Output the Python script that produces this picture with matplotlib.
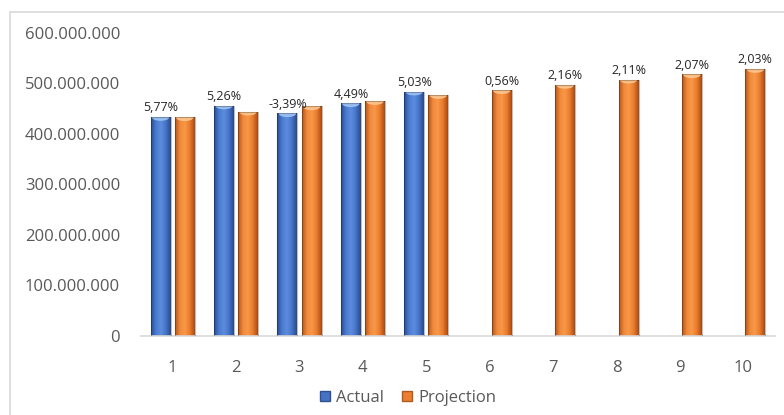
import matplotlib
matplotlib.use("Agg")
import matplotlib.pyplot as plt
from matplotlib.patches import Rectangle, Ellipse, Patch
from matplotlib.colors import LinearSegmentedColormap
from matplotlib.ticker import FuncFormatter
import numpy as np

# dane: wartości rzeczywiste i prognoza (w mln) oraz dynamika r/r
years = [1, 2, 3, 4, 5, 6, 7, 8, 9, 10]
actual = [433.5, 456.3, 440.8, 460.6, 483.8]
projection = [433.0, 444.0, 454.5, 465.0, 477.0, 486.5, 497.0, 507.5, 518.0, 528.5]
growth = ["5,77%", "5,26%", "-3,39%", "4,49%", "5,03%",
          "0,56%", "2,16%", "2,11%", "2,07%", "2,03%"]

plt.rcParams['font.family'] = ['Open Sans', 'DejaVu Sans']

fig = plt.figure(figsize=(7.84, 4.15), dpi=100)
ax = fig.add_axes([0.1798, 0.1904, 0.8087, 0.7301])

# ramka wykresu
fig.patches.append(Rectangle((10 / 784, -0.1), 1.0, 1 - 12 / 415 + 0.1,
                             transform=fig.transFigure, fill=False,
                             edgecolor="#D9D9D9", linewidth=1.2))

w = 0.315
off = 0.19
x = np.array(years, dtype=float)

blue_cm = LinearSegmentedColormap.from_list(
    "b", ["#2A4F96", "#4A7BD0", "#5C8DDD", "#4674C8", "#2A4A8C"])
orange_cm = LinearSegmentedColormap.from_list(
    "o", ["#B8561A", "#F08A3C", "#F99848", "#E97A2C", "#A94C14"])
grad = np.linspace(0, 1, 64).reshape(1, -1)


def shaded_bars(xs, vals, cmap, cap_color):
    bars = ax.bar(xs, vals, w, color="none", edgecolor="none", zorder=2)
    for b in bars:
        bx, by = b.get_x(), b.get_y()
        bw, bh = b.get_width(), b.get_height()
        im = ax.imshow(grad, cmap=cmap, aspect="auto", zorder=2,
                       extent=[bx, bx + bw, by, by + bh])
        im.set_clip_path(b)
        cap = Ellipse((bx + bw / 2, by + bh), bw * 0.8, 12, color=cap_color,
                      zorder=3, alpha=0.9)
        ax.add_patch(cap)
        cap.set_clip_path(b)
        # cień krawędzi
        ax.add_patch(Rectangle((bx, by), bw, bh, fill=False,
                               edgecolor="#00000040", linewidth=0.8, zorder=3))
    return bars


act_bars = shaded_bars(x[:len(actual)] - off, actual, blue_cm, "#9DC1F2")
proj_bars = shaded_bars(x + off, projection, orange_cm, "#FCC48E")

# etykiety z dynamiką
for i, txt in enumerate(growth):
    if i < len(actual):
        xx, yy = x[i] - off, actual[i]
    else:
        xx, yy = x[i] + off, projection[i]
    ax.annotate(txt, (xx, yy), xytext=(0, 2), textcoords="offset points",
                ha="center", va="bottom", fontsize=9, color="#262626",
                zorder=4)

ax.set_xlim(0.5, 10.5)
ax.set_ylim(0, 600)
ax.set_xticks(years)
ax.set_yticks(np.arange(0, 601, 100))
ax.yaxis.set_major_formatter(
    FuncFormatter(lambda v, p: "0" if v == 0 else f"{int(v * 1e6):,}".replace(",", ".")))
ax.tick_params(axis="both", length=0, labelsize=12, labelcolor="#595959")
ax.tick_params(axis="y", pad=15)
ax.tick_params(axis="x", pad=17)
for s in ["top", "right", "left"]:
    ax.spines[s].set_visible(False)
ax.spines["bottom"].set_color("#D9D9D9")
ax.spines["bottom"].set_linewidth(1.2)

handles = [Patch(facecolor="#4472C4", edgecolor="#2F528F", label="Actual"),
           Patch(facecolor="#ED7D31", edgecolor="#AE5A21", label="Projection")]
fig.legend(handles=handles, loc="center", bbox_to_anchor=(408 / 784, 1 - 398 / 415),
           ncol=2, frameon=False, fontsize=12, labelcolor="#595959",
           handlelength=0.6, handleheight=0.6, handletextpad=0.35, columnspacing=1.1)

fig.savefig("out.png", dpi=100)
